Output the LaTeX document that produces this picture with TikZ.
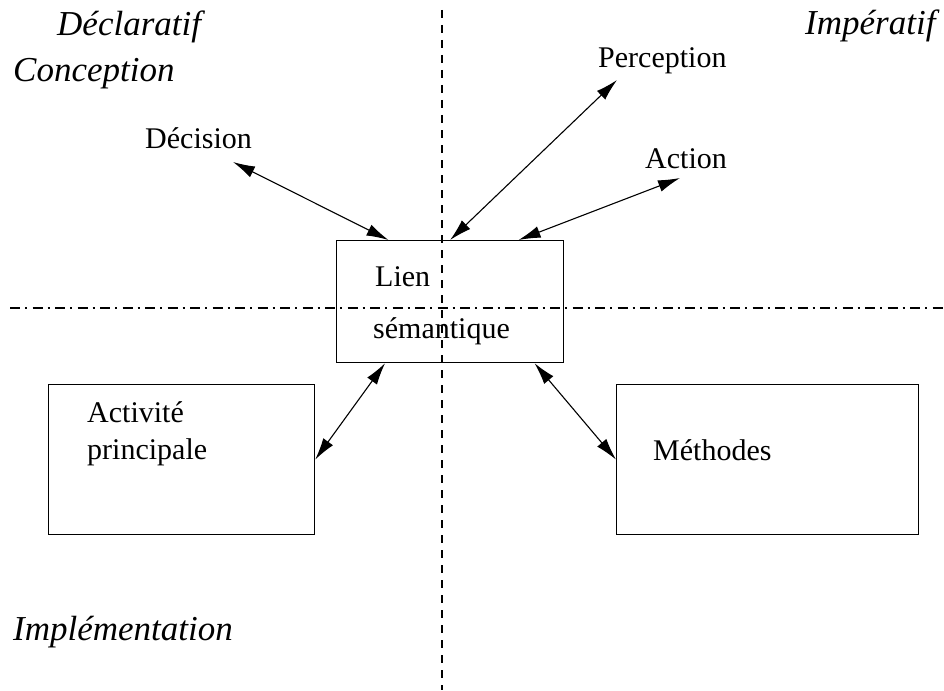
\documentclass[tikz,border=0pt]{standalone}
\usepackage{fontspec}
\setmainfont{Liberation Serif}
\usetikzlibrary{arrows.meta,calc}
\begin{document}
\begin{tikzpicture}[x=1pt,y=-1pt,
  box/.style={draw,line width=1.2pt,inner sep=0pt,anchor=north west},
  lbl/.style={inner sep=0pt,anchor=base west,font=\fontsize{30}{37}\selectfont},
  zone/.style={inner sep=0pt,anchor=base west,font=\fontsize{35}{42}\selectfont\itshape},
  link/.style={line width=1.1pt,{Latex[length=22pt,width=12pt]}-{Latex[length=22pt,width=12pt]}},
  axisv/.style={line width=1.2pt,dash pattern=on 8pt off 7pt},
  axish/.style={line width=1.2pt,dash pattern=on 10pt off 5pt on 2pt off 5.5pt}]
\useasboundingbox (0,0) rectangle (944,690);

% quadrant axes
\coordinate (vtop) at (442,10);
\coordinate (vbot) at (442,690);
\coordinate (hleft) at (10,308);
\coordinate (hright) at (944,308);
\draw[axisv] (vtop) -- (vbot);
\draw[axish] (hleft) -- (hright);

% quadrant titles
\node[zone] (decl) at (57,36) {Déclaratif};
\node[zone] (conc) at (13,82) {Conception};
\node[zone] (imper) at (805,35) {Impératif};
\node[zone] (impl) at (13,640) {Implémentation};

% boxes
\node[box,minimum width=227pt,minimum height=122pt] (lien) at (336,240) {};
\node[box,minimum width=266pt,minimum height=150pt] (activ) at (48,384) {};
\node[box,minimum width=302pt,minimum height=150pt] (meth) at (616,384) {};

% box texts
\node[lbl] (lienA) at (375,286) {Lien};
\node[lbl] (lienB) at (373,338) {sémantique};
\node[lbl] (activA) at (87,422) {Activité};
\node[lbl] (activB) at (87,459) {principale};
\node[lbl] (methT) at (653,460) {Méthodes};

% free labels
\node[lbl] (decis) at (145,148) {Décision};
\node[lbl] (perc) at (598,68) {Perception};
\node[lbl] (act) at (645,168) {Action};

% arrow ends beside the free labels
\coordinate (decisEnd) at (233,162);
\coordinate (percEnd) at (617,80);
\coordinate (actEnd) at (680,178);

% connectors
\draw[link] (decisEnd) -- ($(lien.north west)!0.23!(lien.north east)$);
\draw[link] (percEnd) -- ($(lien.north west)!0.50!(lien.north east)$);
\draw[link] (actEnd) -- ($(lien.north west)!0.80!(lien.north east)$);
\draw[link] ($(lien.south west)!0.215!(lien.south east)$) -- (activ.east);
\draw[link] ($(lien.south west)!0.87!(lien.south east)$) -- (meth.west);
\end{tikzpicture}
\end{document}
